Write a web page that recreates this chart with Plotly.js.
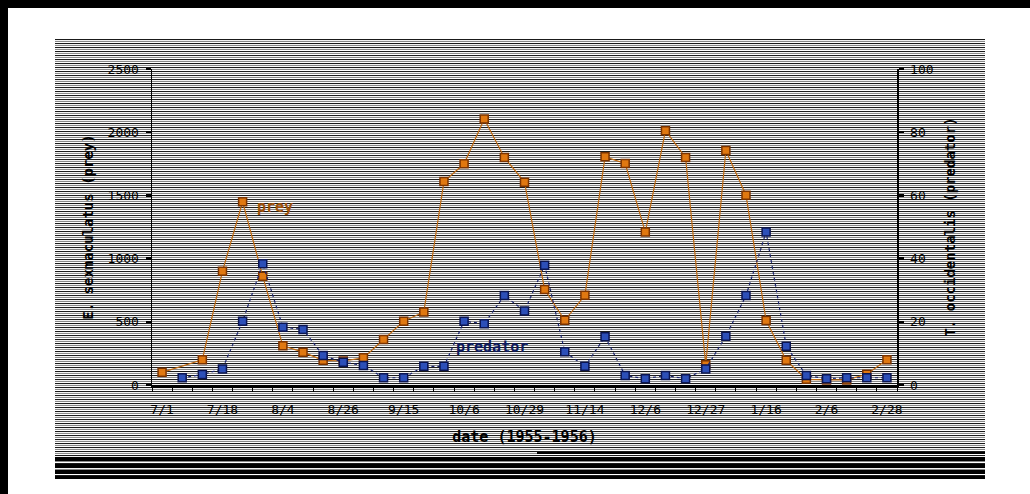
<!DOCTYPE html>
<html>
<head>
<meta charset="utf-8">
<script src="https://cdn.plot.ly/plotly-3.0.1.min.js"></script>
<style>
  html, body { margin:0; padding:0; width:1030px; height:494px; background:#fff; overflow:hidden; }
  #frameTop { position:absolute; left:0; top:0; width:1030px; height:8px; background:#000; }
  #frameLeft { position:absolute; left:0; top:0; width:8px; height:494px; background:#000; }
  #stripes { position:absolute; left:55px; top:39px; width:930px; height:440px;
    background: repeating-linear-gradient(to bottom, #1a1a1a 0px, #1a1a1a 1px, #f2f2f2 1px, #f2f2f2 2px, #8a8a8a 2px, #8a8a8a 3px, #ffffff 3px, #ffffff 4px); }
  .band { position:absolute; background:#000; }
  #chart { position:absolute; left:0; top:0; width:1030px; height:494px; }
</style>
</head>
<body>
<div id="frameTop"></div>
<div id="frameLeft"></div>
<div id="stripes"></div>
<div class="band" style="left:537px; top:452px; width:448px; height:2px;"></div>
<div class="band" style="left:55px; top:457px; width:930px; height:4px;"></div>
<div class="band" style="left:55px; top:464px; width:930px; height:4px;"></div>
<div class="band" style="left:55px; top:470px; width:930px; height:4px;"></div>
<div class="band" style="left:55px; top:476px; width:930px; height:3px;"></div>
<div id="chart"></div>
<script>
// sample dates shown on the axis (every third sample)
const dateLabels = ['7/1','7/18','8/4','8/26','9/15','10/6','10/29','11/14','12/6','12/27','1/16','2/6','2/28'];
// sample index (37 samples)
const sampleIndex = [0,1,2,3,4,5,6,7,8,9,10,11,12,13,14,15,16,17,18,19,20,21,22,23,24,25,26,27,28,29,30,31,32,33,34,35,36];
// E. sexmaculatus (prey), left axis
const prey = [100,null,200,900,1450,860,310,260,195,190,215,360,505,578,1610,1750,2105,1800,1605,755,512,710,1805,1752,1210,2012,1800,160,1855,1502,510,195,45,40,40,85,200];
// T. occidentalis (predator), right axis
const predator = [null,2.3,3.3,5.1,20.2,38.4,18.3,17.6,9.3,7.2,6.2,2.3,2.3,5.9,5.9,20.2,19.4,28.3,23.4,37.9,10.5,5.9,15.3,3.0,2.0,3.0,2.0,5.1,15.4,28.3,48.4,12.3,3.0,2.0,2.3,2.3,2.3];
const leftTicks = [0,500,1000,1500,2000,2500];
const rightTicks = [0,20,40,60,80,100];

const labelIdx = dateLabels.map((d,i)=>i*3);
const monoFont = 'DejaVu Sans Mono, monospace';

const traces = [
  {
    x: sampleIndex, y: prey, name: 'prey', type: 'scatter', mode: 'lines+markers',
    connectgaps: true, yaxis: 'y',
    line: {color: '#c0690f', width: 1.2},
    marker: {symbol: 'square', size: 8, color: '#e07810', line: {color: '#7a3300', width: 1.5}}
  },
  {
    x: sampleIndex, y: predator, name: 'predator', type: 'scatter', mode: 'lines+markers',
    connectgaps: true, yaxis: 'y2',
    line: {color: '#1a2470', width: 1.2, dash: 'dot'},
    marker: {symbol: 'square', size: 8, color: '#2c4fb8', line: {color: '#0a1450', width: 1.5}}
  }
];

const layout = {
  width: 1030, height: 494, autosize: false,
  margin: {l: 152, r: 133, t: 69, b: 109},
  paper_bgcolor: 'rgba(0,0,0,0)', plot_bgcolor: 'rgba(0,0,0,0)',
  showlegend: false,
  font: {family: monoFont, size: 13, color: '#000'},
  xaxis: {
    range: [-0.5, 36.5], tickmode: 'array', tickvals: labelIdx, ticktext: dateLabels,
    ticks: '', showgrid: false, zeroline: false,
    showline: true, linecolor: '#000', linewidth: 3,
    tickfont: {family: monoFont, size: 13, color: '#000'},
    ticklabelstandoff: 10,
    minor: {ticks: 'outside', ticklen: 4, tickwidth: 1, tickcolor: '#000', tick0: -0.5, dtick: 1, showgrid: false},
    title: {text: '<b>date (1955-1956)</b>', font: {family: monoFont, size: 15, color: '#000'}, standoff: 16}
  },
  yaxis: {
    range: [0, 2500], tickmode: 'array', tickvals: leftTicks, ticktext: leftTicks.map(String),
    ticks: 'outside', ticklen: 5, tickwidth: 2.5, tickcolor: '#000',
    showgrid: false, zeroline: false, showline: true, linecolor: '#000', linewidth: 1.5,
    tickfont: {family: monoFont, size: 13, color: '#000'}, ticklabelstandoff: 4,
    title: {text: '<b>E. sexmaculatus (prey)</b>', font: {family: monoFont, size: 14, color: '#000'}, standoff: 10}
  },
  yaxis2: {
    range: [0, 100], overlaying: 'y', side: 'right',
    tickmode: 'array', tickvals: rightTicks, ticktext: rightTicks.map(String),
    ticks: 'outside', ticklen: 5, tickwidth: 2.5, tickcolor: '#000',
    showgrid: false, zeroline: false, showline: true, linecolor: '#000', linewidth: 1.5,
    tickfont: {family: monoFont, size: 13, color: '#000'}, ticklabelstandoff: 4,
    title: {text: '<b>T. occidentalis (predator)</b>', font: {family: monoFont, size: 14, color: '#000'}, standoff: 12}
  },
  annotations: [
    {x: 5.6, y: 1412, xref: 'x', yref: 'y', text: '<b>prey</b>', showarrow: false,
     font: {family: monoFont, size: 15, color: '#a0520a'}},
    {x: 16.4, y: 297, xref: 'x', yref: 'y', text: '<b>predator</b>', showarrow: false,
     font: {family: monoFont, size: 15, color: '#0d1a5e'}}
  ]
};

Plotly.newPlot('chart', traces, layout, {displayModeBar: false, staticPlot: true});
</script>
</body>
</html>
